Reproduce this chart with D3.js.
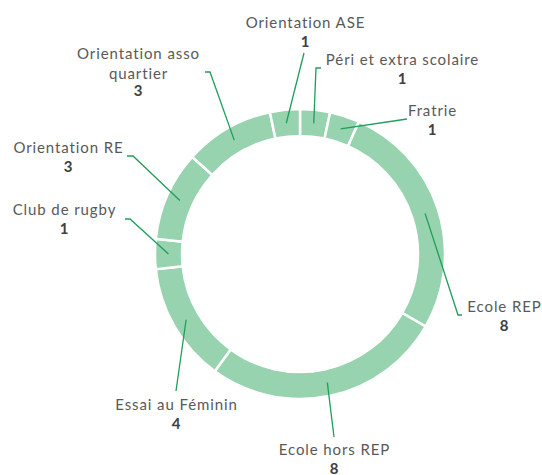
<!DOCTYPE html>
<html>
<head>
<meta charset="utf-8">
<script src="https://cdn.jsdelivr.net/npm/d3@7"></script>
<style>
  body { margin: 0; background: #fff; }
  text { font-family: "Lato", "Open Sans", sans-serif; font-variant-ligatures: none; }
</style>
</head>
<body>
<div id="chart-area"></div>
<script>
// data
var categories = ["Péri et extra scolaire", "Fratrie", "Ecole REP", "Ecole hors REP",
    "Essai au Féminin", "Club de rugby", "Orientation RE", "Orientation asso quartier", "Orientation ASE"];
var values = [1, 1, 8, 8, 4, 1, 3, 3, 1];

// label layout: text lines, text centre, first baseline, leader end, elbow
var labelLayout = [
    { lines: ["Péri et extra scolaire"], x: 402, y: 65, end: [316, 68], hook: 5 },
    { lines: ["Fratrie"], x: 432, y: 116, end: [407, 119], hook: 0 },
    { lines: ["Ecole REP"], x: 504, y: 312, end: [458, 315], hook: 4 },
    { lines: ["Ecole hors REP"], x: 334, y: 455, end: [334, 437], hook: 0 },
    { lines: ["Essai au Féminin"], x: 176, y: 410, end: [176, 391], hook: 0 },
    { lines: ["Club de rugby"], x: 64, y: 215, end: [130, 219], hook: -5 },
    { lines: ["Orientation RE"], x: 68, y: 153, end: [133, 156], hook: -6 },
    { lines: ["Orientation asso", "quartier"], x: 138, y: 59, end: [210, 72], hook: -5 },
    { lines: ["Orientation ASE"], x: 305, y: 28, end: [304, 53], hook: 0 }
];

var width = 542, height = 475;
var cx = 300, cy = 254;
var outerR = 145, innerR = 118;

var svg = d3.select("#chart-area")
    .append("svg")
        .attr("width", width)
        .attr("height", height);

var g = svg.append("g")
    .attr("transform", "translate(" + cx + ", " + cy + ")");

var pie = d3.pie()
    .sort(null)
    .value(function(d){ return d; });

var arc = d3.arc()
    .innerRadius(innerR)
    .outerRadius(outerR);

var arcs = pie(values);

// slices
g.selectAll("path.slice")
    .data(arcs)
    .enter()
    .append("path")
        .attr("class", "slice")
        .attr("d", arc)
        .attr("fill", "#96d3ae")
        .attr("stroke", "#fff")
        .attr("stroke-width", 2.5);

// leader lines
var line = d3.line();
svg.selectAll("path.leader")
    .data(arcs)
    .enter()
    .append("path")
        .attr("class", "leader")
        .attr("fill", "none")
        .attr("stroke", "#1f9d5c")
        .attr("stroke-width", 1.3)
        .attr("d", function(d, i){
            var c = arc.centroid(d);
            var L = labelLayout[i];
            var pts = [[c[0] + cx, c[1] + cy], L.end];
            if (L.hook) pts.push([L.end[0] + L.hook, L.end[1]]);
            return line(pts);
        });

// labels
var labels = svg.selectAll("g.label")
    .data(arcs)
    .enter()
    .append("g")
        .attr("class", "label");

labels.each(function(d, i){
    var L = labelLayout[i];
    var sel = d3.select(this);
    L.lines.forEach(function(t, k){
        sel.append("text")
            .attr("x", L.x + 0.5)
            .attr("y", L.y + k * 20)
            .attr("text-anchor", "middle")
            .attr("font-size", "15px")
            .attr("letter-spacing", "0.9px")
            .attr("fill", "#595959")
            .text(t);
    });
    sel.append("text")
        .attr("x", L.x)
        .attr("y", L.y + L.lines.length * 18.5)
        .attr("text-anchor", "middle")
        .attr("font-size", "15px")
        .attr("font-weight", "bold")
        .attr("fill", "#404040")
        .text(values[i]);
});
</script>
</body>
</html>
